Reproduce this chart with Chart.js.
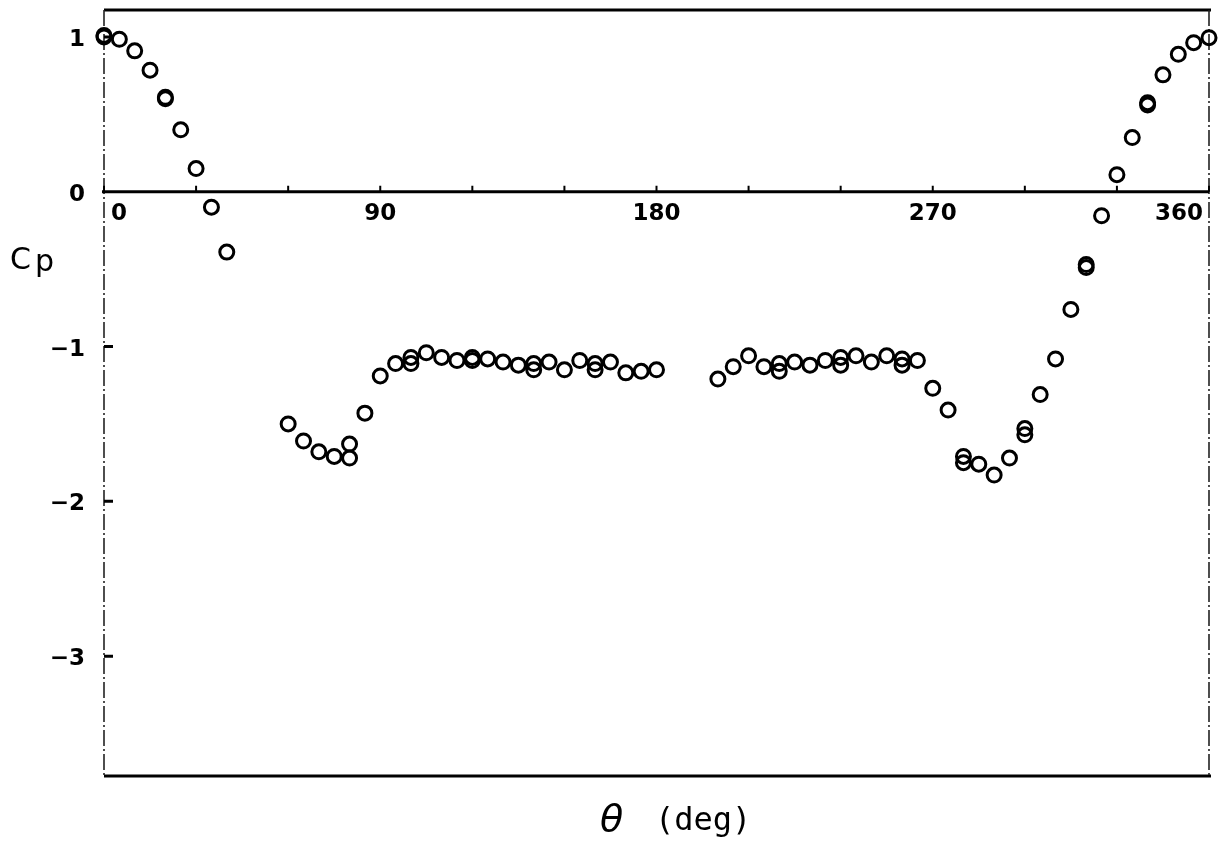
<!DOCTYPE html>
<html>
<head>
<meta charset="utf-8">
<script src="https://cdn.jsdelivr.net/npm/chart.js@4.4.1/dist/chart.umd.min.js"></script>
<style>
  html, body { margin: 0; padding: 0; background: #fff; }
  #wrap { width: 1221px; height: 843px; }
</style>
</head>
<body>
<div id="wrap"><canvas id="cpChart" width="1221" height="843"></canvas></div>
<script>
// surface pressure coefficient vs angle
const theta = [
  0, 0, 5, 10, 15, 20, 20, 25, 30, 35, 40,
  60, 65, 70, 75, 80, 80, 85, 90, 95, 100, 100, 105, 110, 115, 120, 120,
  125, 130, 135, 140, 140, 145, 150, 155, 160, 160, 165, 170, 175, 180,
  200, 205, 210, 215, 220, 220, 225, 230, 235, 240, 240, 245, 250, 255,
  260, 260, 265, 270, 275, 280, 280, 285, 290, 295, 300, 300, 305, 310,
  315, 320, 320, 325, 330, 335, 340, 340, 345, 350, 355, 360
];
const cp = [
  1.01, 1.0, 0.985, 0.91, 0.785, 0.61, 0.60, 0.40, 0.15, -0.10, -0.39,
  -1.50, -1.61, -1.68, -1.71, -1.72, -1.63, -1.43, -1.19, -1.11, -1.07, -1.11, -1.04, -1.07, -1.09, -1.07, -1.09,
  -1.08, -1.10, -1.12, -1.11, -1.15, -1.10, -1.15, -1.09, -1.11, -1.15, -1.10, -1.17, -1.16, -1.15,
  -1.21, -1.13, -1.06, -1.13, -1.11, -1.16, -1.10, -1.12, -1.09, -1.07, -1.12, -1.06, -1.10, -1.06,
  -1.08, -1.12, -1.09, -1.27, -1.41, -1.71, -1.75, -1.76, -1.83, -1.72, -1.53, -1.57, -1.31, -1.08,
  -0.76, -0.47, -0.49, -0.155, 0.11, 0.35, 0.56, 0.575, 0.755, 0.888, 0.963, 0.995
];

const xTicks = [0, 30, 60, 90, 120, 150, 180, 210, 240, 270, 300, 330, 360];
const xLabels = [0, 90, 180, 270, 360];
const yTicks = [1, 0, -1, -2, -3];
const xMin = 0, xMax = 360;
const yMin = -3.774, yMax = 1.174;

const labelFont = 'bold 23px "DejaVu Sans"';

// frame, zero axis, tick marks, labels and titles
const framePlugin = {
  id: "framePlugin",
  beforeDatasetsDraw(chart) {
    const ctx = chart.ctx;
    const ca = chart.chartArea;
    const xs = chart.scales.x;
    const ys = chart.scales.y;
    const y0 = ys.getPixelForValue(0);

    ctx.save();
    ctx.strokeStyle = "#000";
    ctx.lineCap = "butt";

    // top & bottom solid
    ctx.lineWidth = 3;
    ctx.beginPath();
    ctx.moveTo(ca.left, ca.top); ctx.lineTo(ca.right + 2, ca.top);
    ctx.moveTo(ca.left, ca.bottom); ctx.lineTo(ca.right + 2, ca.bottom);
    ctx.stroke();

    // sides dash-dot
    ctx.lineWidth = 1.6;
    ctx.strokeStyle = "#222";
    ctx.setLineDash([16, 3, 2, 3]);
    ctx.beginPath();
    ctx.moveTo(ca.left, ca.top); ctx.lineTo(ca.left, ca.bottom);
    ctx.moveTo(ca.right, ca.top); ctx.lineTo(ca.right, ca.bottom);
    ctx.stroke();
    ctx.setLineDash([]);

    // zero axis
    ctx.strokeStyle = "#000";
    ctx.lineWidth = 3;
    ctx.beginPath();
    ctx.moveTo(ca.left - 2, y0); ctx.lineTo(ca.right, y0);
    ctx.stroke();

    ctx.lineWidth = 2;
    ctx.beginPath();
    xTicks.forEach((v) => {
      const px = xs.getPixelForValue(v);
      ctx.moveTo(px, y0); ctx.lineTo(px, y0 - 6);
    });
    ctx.stroke();

    ctx.lineWidth = 3;
    ctx.beginPath();
    yTicks.forEach((v) => {
      if (v === 0) return;
      const py = ys.getPixelForValue(v);
      ctx.moveTo(ca.left, py); ctx.lineTo(ca.left + 9, py);
    });
    ctx.stroke();

    ctx.fillStyle = "#000";
    ctx.font = labelFont;
    ctx.textBaseline = "middle";

    // x tick labels along the zero line
    ctx.textAlign = "center";
    xLabels.forEach((v) => {
      let px = xs.getPixelForValue(v);
      if (v === xMin) px += 15;
      if (v === xMax) px -= 30;
      ctx.fillText(String(v), px, y0 + 22);
    });

    // y tick labels
    ctx.textAlign = "right";
    yTicks.forEach((v) => {
      const py = ys.getPixelForValue(v);
      ctx.fillText(String(v).replace("-", "\u2212"), ca.left - 19, py + 3);
    });

    // y title
    ctx.textAlign = "left";
    ctx.textBaseline = "alphabetic";
    ctx.font = '30px "DejaVu Sans"';
    ctx.fillText("C", 10, 269);
    ctx.font = '30px "DejaVu Sans"';
    ctx.fillText("p", 35, 271);

    // x title
    ctx.font = 'italic 38px "DejaVu Sans"';
    ctx.fillText("\u03B8", 600, 831);
    ctx.font = '32px "DejaVu Sans Mono"';
    ctx.fillText("(deg)", 655, 830);

    ctx.restore();
  },
};

new Chart(document.getElementById("cpChart").getContext("2d"), {
  type: "scatter",
  data: {
    datasets: [
      {
        label: "Cp",
        data: theta.map((t, i) => ({ x: t, y: cp[i] })),
        pointStyle: "circle",
        pointRadius: 7,
        pointBorderWidth: 3,
        borderColor: "#000",
        backgroundColor: "rgba(255,255,255,0)",
        clip: false,
      },
    ],
  },
  options: {
    responsive: false,
    animation: false,
    devicePixelRatio: 1,
    layout: { padding: { left: 104, top: 9, right: 12, bottom: 67 } },
    plugins: {
      legend: { display: false },
      tooltip: { enabled: false },
    },
    scales: {
      x: { type: "linear", min: xMin, max: xMax, display: false },
      y: { type: "linear", min: yMin, max: yMax, display: false },
    },
  },
  plugins: [framePlugin],
});
</script>
</body>
</html>
